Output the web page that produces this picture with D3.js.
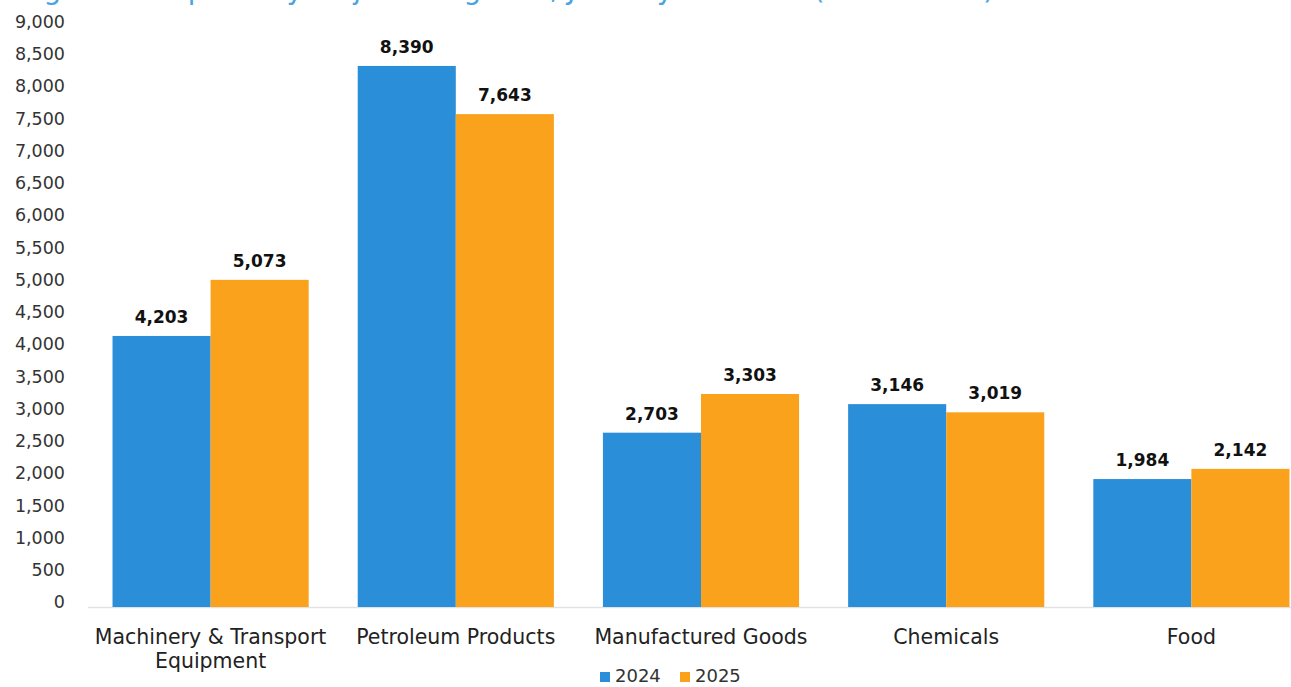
<!DOCTYPE html>
<html>
<head>
<meta charset="utf-8">
<script src="https://cdn.jsdelivr.net/npm/d3@7"></script>
<style>
  html, body { margin: 0; padding: 0; background: #fff; }
  svg { display: block; }
</style>
</head>
<body>
<div id="chart"></div>
<script>
// Import categories and values (USD million)
const categories = [
  ["Machinery & Transport", "Equipment"],
  ["Petroleum Products"],
  ["Manufactured Goods"],
  ["Chemicals"],
  ["Food"]
];
const seriesNames = ["2024", "2025"];
const values2024 = [4203, 8390, 2703, 3146, 1984];
const values2025 = [5073, 7643, 3303, 3019, 2142];
const yTicks = [0, 500, 1000, 1500, 2000, 2500, 3000, 3500, 4000, 4500,
                5000, 5500, 6000, 6500, 7000, 7500, 8000, 8500, 9000];
const colors = ["#2b8ed9", "#fba21c"];

const W = 1291, H = 687;
const svg = d3.select("#chart").append("svg")
  .attr("width", W).attr("height", H);

const font = "'DejaVu Sans', sans-serif";

// Title (runs off the top edge)
svg.append("text")
  .attr("x", 508).attr("y", -1)
  .attr("text-anchor", "middle")
  .attr("font-family", font)
  .attr("font-size", 28)
  .attr("fill", "#4aa3e0")
  .text("Figure 2: Imports by Major Categories, January to March (USD Million)");

const keys = categories.map((c, i) => i);
const x0 = d3.scaleBand().domain(keys).range([88, 1314])
  .paddingInner(0.2).paddingOuter(0.1);
const x1 = d3.scaleBand().domain(seriesNames).range([0, x0.bandwidth()]);
const y = d3.scaleLinear().domain([0, 9000]).range([607, 26.6]);

// Y axis labels only (no line, no ticks)
const yAxis = svg.append("g").attr("transform", "translate(65,0)")
  .call(d3.axisLeft(y).tickValues(yTicks).tickSize(0).tickPadding(0)
    .tickFormat(d3.format(",")));
yAxis.select(".domain").remove();
yAxis.selectAll("text")
  .attr("font-family", font).attr("font-size", 17.5)
  .attr("fill", "#333").attr("dy", "0.05em");

// Baseline
svg.append("line")
  .attr("x1", 88).attr("x2", W).attr("y1", y(0) + 0.5).attr("y2", y(0) + 0.5)
  .attr("stroke", "#e2e2e2").attr("stroke-width", 1.5);

const data = keys.map(i => ({
  i,
  vals: [{ s: "2024", v: values2024[i] }, { s: "2025", v: values2025[i] }]
}));

const groups = svg.selectAll("g.grp").data(data).join("g")
  .attr("class", "grp")
  .attr("transform", d => `translate(${x0(d.i)},0)`);

groups.selectAll("rect").data(d => d.vals).join("rect")
  .attr("x", d => x1(d.s))
  .attr("width", x1.bandwidth())
  .attr("y", d => y(d.v))
  .attr("height", d => y(0) - y(d.v))
  .attr("fill", (d, j) => colors[j]);

groups.selectAll("text.val").data(d => d.vals).join("text")
  .attr("class", "val")
  .attr("x", d => x1(d.s) + x1.bandwidth() / 2)
  .attr("y", d => y(d.v) - 13)
  .attr("text-anchor", "middle")
  .attr("font-family", font).attr("font-weight", "bold")
  .attr("font-size", 17).attr("fill", "#111")
  .text(d => d3.format(",")(d.v));

// Category labels
const catText = svg.selectAll("text.cat").data(keys).join("text")
  .attr("class", "cat")
  .attr("text-anchor", "middle")
  .attr("font-family", font).attr("font-size", 20.5).attr("fill", "#222")
  .attr("x", i => x0(i) + x0.bandwidth() / 2)
  .attr("y", 644);
catText.each(function(i) {
  d3.select(this).selectAll("tspan").data(categories[i]).join("tspan")
    .attr("x", x0(i) + x0.bandwidth() / 2)
    .attr("dy", (d, k) => k === 0 ? 0 : 24)
    .text(d => d);
});

// Legend
const legend = svg.append("g").attr("transform", "translate(600,682)");
const legItems = [{ name: seriesNames[0], x: 0 }, { name: seriesNames[1], x: 80 }];
legItems.forEach((it, j) => {
  legend.append("rect")
    .attr("x", it.x).attr("y", -10).attr("width", 10).attr("height", 10)
    .attr("fill", colors[j]);
  legend.append("text")
    .attr("x", it.x + 15).attr("y", 0)
    .attr("font-family", font).attr("font-size", 18).attr("fill", "#333")
    .text(it.name);
});
</script>
</body>
</html>
